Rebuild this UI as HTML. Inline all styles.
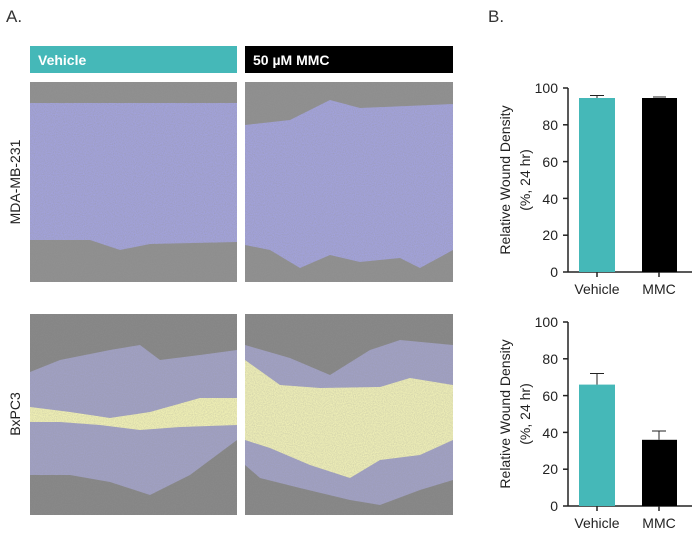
<!DOCTYPE html><html><head><style>body{margin:0;background:#fff}svg{display:block}text{font-family:"Liberation Sans",sans-serif}</style></head><body>
<svg width="696" height="533" viewBox="0 0 696 533" xmlns="http://www.w3.org/2000/svg">
<defs><filter id="n" x="0" y="0" width="1" height="1"><feTurbulence type="fractalNoise" baseFrequency="0.9" numOctaves="2" seed="3"/><feColorMatrix values="0 0 0 0 0.3 0 0 0 0 0.3 0 0 0 0 0.3 0 0 0 -1.5 1.1"/></filter></defs>
<text x="6" y="22" font-size="17" fill="#333">A.</text>
<text x="488" y="22" font-size="17" fill="#333">B.</text>
<rect x="30" y="46" width="207" height="27" fill="#45b8b8"/>
<text x="38" y="65" font-size="14" font-weight="bold" fill="#fff">Vehicle</text>
<rect x="245" y="46" width="208" height="27" fill="#000"/>
<text x="253" y="65" font-size="14" font-weight="bold" fill="#fff">50 µM MMC</text>
<g>
<rect x="30" y="82" width="207" height="200" fill="#8e8e8e"/>
<path d="M30 103 L237 103 L237 242 L150 244 L120 250 L90 240 L30 240Z" fill="#a2a2dc"/>
<rect x="245" y="82" width="208" height="200" fill="#8e8e8e"/>
<path d="M245 125 L290 120 L330 100 L360 108 L453 104 L453 250 L420 268 L400 258 L360 262 L330 255 L300 268 L270 250 L245 245Z" fill="#a2a2dc"/>
<rect x="30" y="314" width="207" height="201" fill="#858585"/>
<path d="M30 372 L60 360 L110 350 L140 345 L160 360 L200 355 L237 350 L237 440 L190 475 L150 495 L110 482 L70 475 L30 475Z" fill="#a0a0c4"/>
<path d="M30 407 L70 412 L110 418 L150 412 L200 398 L237 398 L237 425 L180 427 L140 430 L100 425 L60 422 L30 422Z" fill="#f0f0b4"/>
<rect x="245" y="314" width="208" height="201" fill="#858585"/>
<path d="M245 345 L290 358 L330 375 L370 350 L400 340 L453 345 L453 480 L420 490 L380 505 L350 500 L300 488 L260 478 L245 465Z" fill="#a0a0c4"/>
<path d="M245 360 L280 385 L320 388 L380 387 L410 378 L453 385 L453 440 L420 455 L380 460 L350 478 L310 465 L270 448 L245 440Z" fill="#eeeeb6"/>
<rect x="30" y="82" width="207" height="200" filter="url(#n)" opacity="0.45"/>
<rect x="245" y="82" width="208" height="200" filter="url(#n)" opacity="0.45"/>
<rect x="30" y="314" width="207" height="201" filter="url(#n)" opacity="0.35"/>
<rect x="245" y="314" width="208" height="201" filter="url(#n)" opacity="0.35"/>
</g>
<text transform="translate(20,182) rotate(-90)" text-anchor="middle" font-size="14" fill="#222">MDA-MB-231</text>
<text transform="translate(20,414) rotate(-90)" text-anchor="middle" font-size="14" fill="#222">BxPC3</text>
<g font-size="14" fill="#222" stroke="#222">
<line x1="568" y1="88" x2="568" y2="272" stroke-width="1.5"/><line x1="568" y1="272" x2="692" y2="272" stroke-width="1.5"/>
<g stroke-width="1.5"><line x1="563" y1="88" x2="568" y2="88"/><line x1="563" y1="124.8" x2="568" y2="124.8"/><line x1="563" y1="161.6" x2="568" y2="161.6"/><line x1="563" y1="198.4" x2="568" y2="198.4"/><line x1="563" y1="235.2" x2="568" y2="235.2"/><line x1="563" y1="272" x2="568" y2="272"/><line x1="597" y1="272" x2="597" y2="277"/><line x1="659" y1="272" x2="659" y2="277"/></g>
<g stroke="none" text-anchor="end"><text x="558" y="93">100</text><text x="558" y="130">80</text><text x="558" y="167">60</text><text x="558" y="204">40</text><text x="558" y="240">20</text><text x="558" y="277">0</text></g>
<rect x="579" y="98" width="36" height="174" fill="#45b8b8" stroke="none"/><rect x="642" y="98" width="35" height="174" fill="#000" stroke="none"/>
<line x1="597" y1="98" x2="597" y2="95.5"/><line x1="590" y1="95.5" x2="604" y2="95.5"/><line x1="653" y1="97" x2="666" y2="97"/>
<g stroke="none" text-anchor="middle"><text x="597" y="294">Vehicle</text><text x="659" y="294">MMC</text></g>
<text stroke="none" transform="translate(510,180) rotate(-90)" text-anchor="middle">Relative Wound Density</text>
<text stroke="none" transform="translate(530,180) rotate(-90)" text-anchor="middle">(%, 24 hr)</text>

<line x1="568" y1="322" x2="568" y2="506" stroke-width="1.5"/><line x1="568" y1="506" x2="692" y2="506" stroke-width="1.5"/>
<g stroke-width="1.5"><line x1="563" y1="322" x2="568" y2="322"/><line x1="563" y1="358.8" x2="568" y2="358.8"/><line x1="563" y1="395.6" x2="568" y2="395.6"/><line x1="563" y1="432.4" x2="568" y2="432.4"/><line x1="563" y1="469.2" x2="568" y2="469.2"/><line x1="563" y1="506" x2="568" y2="506"/><line x1="597" y1="506" x2="597" y2="511"/><line x1="659" y1="506" x2="659" y2="511"/></g>
<g stroke="none" text-anchor="end"><text x="558" y="327">100</text><text x="558" y="364">80</text><text x="558" y="401">60</text><text x="558" y="438">40</text><text x="558" y="474">20</text><text x="558" y="511">0</text></g>
<rect x="579" y="384.6" width="36" height="121.4" fill="#45b8b8" stroke="none"/><rect x="642" y="439.8" width="35" height="66.2" fill="#000" stroke="none"/>
<line x1="597" y1="384.6" x2="597" y2="373.5"/><line x1="590" y1="373.5" x2="604" y2="373.5"/>
<line x1="659" y1="439.8" x2="659" y2="431"/><line x1="652" y1="431" x2="666" y2="431"/>
<g stroke="none" text-anchor="middle"><text x="597" y="528">Vehicle</text><text x="659" y="528">MMC</text></g>
<text stroke="none" transform="translate(510,414) rotate(-90)" text-anchor="middle">Relative Wound Density</text>
<text stroke="none" transform="translate(530,414) rotate(-90)" text-anchor="middle">(%, 24 hr)</text>
</g>
</svg></body></html>
